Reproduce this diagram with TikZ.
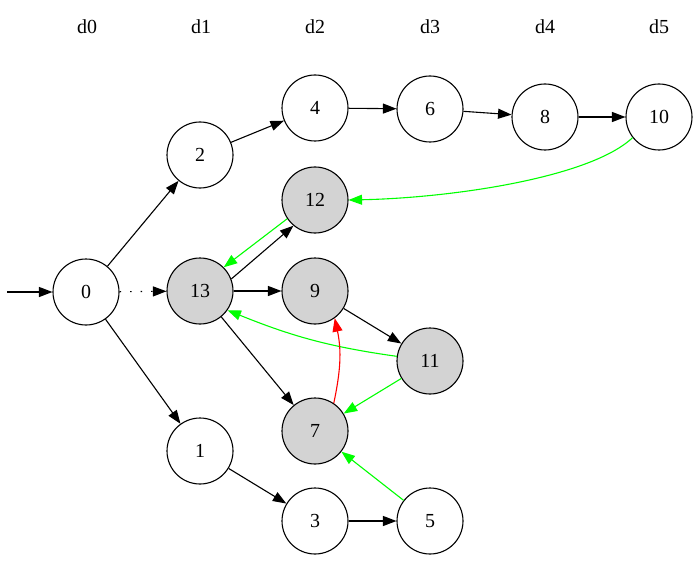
\documentclass[tikz,border=0pt]{standalone}
\usepackage{fontspec}
\setmainfont{Liberation Serif}
\usetikzlibrary{arrows.meta}
\definecolor{gvgreen}{RGB}{0,255,0}
\definecolor{gvred}{RGB}{255,0,0}
\definecolor{gvgray}{RGB}{211,211,211}
\newcommand{\gvfont}{\fontsize{20}{24}\selectfont}
\begin{document}
\begin{tikzpicture}[x=1bp,y=-1bp,
  st/.style={circle,draw,line width=1.1bp,minimum size=66bp,inner sep=0pt,font=\gvfont},
  gst/.style={st,fill=gvgray},
  lbl/.style={inner sep=0pt,font=\gvfont},
  ed/.style={line width=1.1bp,-{Triangle[length=13.5bp,width=10bp]}},
  ged/.style={ed,draw=gvgreen,-{Triangle[length=13.5bp,width=10bp,fill=gvgreen]}},
  red/.style={ed,draw=gvred,-{Triangle[length=13.5bp,width=10bp,fill=gvred]}},
  dot/.style={ed,dash pattern=on 1.5bp off 9bp}
]
\useasboundingbox (0,0) rectangle (699,563);
\node[lbl] (d0) at (87,27) {d0};
\node[lbl] (d1) at (201,27) {d1};
\node[lbl] (d2) at (315,27) {d2};
\node[lbl] (d3) at (430,27) {d3};
\node[lbl] (d4) at (545,27) {d4};
\node[lbl] (d5) at (659,27) {d5};

\node[st] (n0) at (86,292) {0};
\node[st] (n2) at (200,155) {2};
\node[st] (n4) at (315,108) {4};
\node[st] (n6) at (430,109) {6};
\node[st] (n8) at (545,117) {8};
\node[st] (n10) at (659,117) {10};
\node[gst] (n12) at (315,200) {12};
\node[gst] (n13) at (200,291) {13};
\node[gst] (n9) at (315,291) {9};
\node[gst] (n11) at (430,361) {11};
\node[gst] (n7) at (315,431) {7};
\node[st] (n1) at (200,451) {1};
\node[st] (n3) at (315,521) {3};
\node[st] (n5) at (430,521) {5};

\coordinate (start) at (7,292);
\draw[ed] (start) -- (n0);
\draw[ed] (n0) -- (n2);
\draw[dot] (n0) -- (n13);
\draw[ed] (n0) -- (n1);
\draw[ed] (n2) -- (n4);
\draw[ed] (n4) -- (n6);
\draw[ed] (n6) -- (n8);
\draw[ed] (n8) -- (n10);
\draw[ged] (n10.218) .. controls (590,178) and (450,198) .. (n12.east);
\draw[ged] (n12.214) -- (n13.45);
\draw[ed] (n13.21) -- (n12.230);
\draw[ed] (n13) -- (n9);
\draw[ed] (n13) -- (n7);
\draw[ed] (n9) -- (n11);
\draw[ged] (n11.172) to[out=172,in=-22] (n13.-35);
\draw[ged] (n11) -- (n7);
\draw[red] (n7.56) to[out=78,in=-78] (n9.-54);
\draw[ed] (n1) -- (n3);
\draw[ed] (n3) -- (n5);
\draw[ged] (n5) -- (n7);
\end{tikzpicture}
\end{document}
